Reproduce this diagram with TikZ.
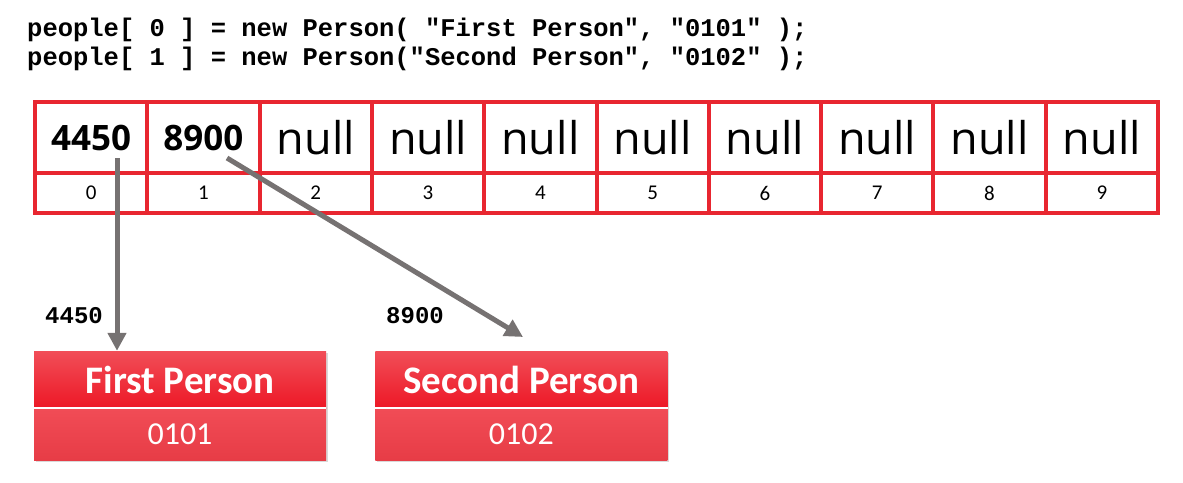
\documentclass[tikz,border=0pt]{standalone}
\usepackage{fontspec}
\setmainfont{Carlito}
\newfontfamily\codefont{Liberation Mono}
\newfontfamily\cellfont{Open Sans}
\usetikzlibrary{arrows.meta, shapes, positioning, shadows}

\definecolor{arrayred}{RGB}{232,38,48}
\definecolor{linkgray}{RGB}{118,114,114}
\definecolor{headtop}{RGB}{241,78,88}
\definecolor{headbot}{RGB}{237,24,38}
\definecolor{bodytop}{RGB}{241,76,86}
\definecolor{bodybot}{RGB}{231,60,70}

\tikzset{
  code/.style={anchor=base west, inner sep=0pt, font=\codefont\bfseries\fontsize{25.5}{30}\selectfont},
  addr/.style={anchor=base west, inner sep=0pt, font=\codefont\bfseries\fontsize{24}{28}\selectfont},
  slot/.style={draw=arrayred, line width=4pt, minimum width=112.3pt, minimum height=71pt, inner sep=0pt},
  ref/.style={font=\cellfont\bfseries\fontsize{35}{35}\selectfont},
  nul/.style={font=\cellfont\fontsize{45}{45}\selectfont},
  idx/.style={draw=arrayred, line width=4pt, minimum width=112.3pt, minimum height=40pt, inner sep=0pt, font=\fontsize{21}{21}\selectfont},
  head/.style={minimum width=292pt, minimum height=57pt, inner sep=0pt, top color=headtop, bottom color=headbot, text=white,
    font=\bfseries\fontsize{39}{39}\selectfont, drop shadow={shadow xshift=2pt, shadow yshift=-2pt, opacity=.3}},
  body/.style={minimum width=292pt, minimum height=52pt, inner sep=0pt, top color=bodytop, bottom color=bodybot, text=white,
    font=\fontsize{32}{32}\selectfont, drop shadow={shadow xshift=2pt, shadow yshift=-2pt, opacity=.3}},
  link/.style={-{Triangle[length=18pt, width=18pt]}, draw=linkgray, line width=5pt}
}

\begin{document}
\begin{tikzpicture}[x=1pt, y=-1pt, node distance=0pt]
      \useasboundingbox (0,0) rectangle (1183,482);

      % code %
      \node[code] (line0) at (27,36) {people[ 0 ] = new Person( "First Person", "0101" );};
      \node[code] (line1) at (27,65) {people[ 1 ] = new Person("Second Person", "0102" );};

      % array %
      \foreach \s/\v [count=\i from 0] in {ref/4450, ref/8900, nul/null, nul/null, nul/null, nul/null, nul/null, nul/null, nul/null, nul/null} {
        \node[slot, \s] (val\i) at ({35+112.3*(\i+0.5)}, 137.5) {\v};
        \node[idx] (idx\i) at ({35+112.3*(\i+0.5)}, 193) {\i};
      }

      % objects %
      \node[head] (head1) at (180,379.5) {First Person};
      \node[body, below=of head1] (body1) {0101};
      \node[head, right=49pt of head1] (head2) {Second Person};
      \node[body, below=of head2] (body2) {0102};
      \draw[white, line width=2pt] (head1.south west) -- (head1.south east);
      \draw[white, line width=2pt] (head2.south west) -- (head2.south east);

      \node[addr] (addr1) at (45,323) {4450};
      \node[addr] (addr2) at (386,323) {8900};

      % edges %
      \coordinate (s1) at (117,158);
      \coordinate (s2) at (227,158);
      \coordinate (t2) at (523,337);
      \draw[link] (s1) -- (s1 |- head1.north);
      \draw[link] (s2) -- (t2);
\end{tikzpicture}
\end{document}
